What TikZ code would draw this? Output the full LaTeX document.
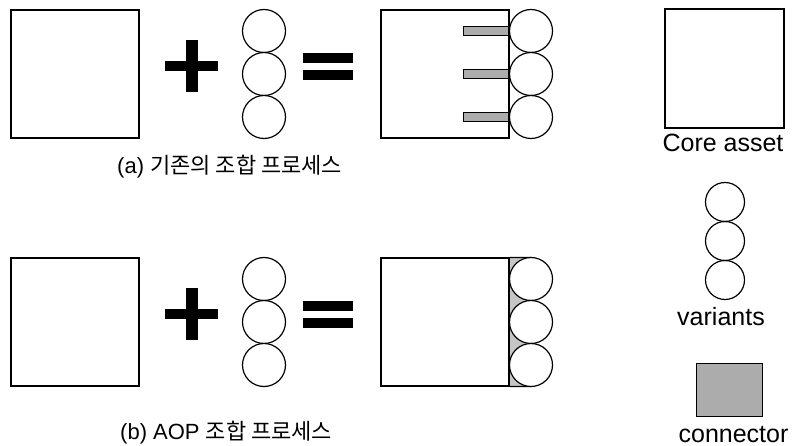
\documentclass[tikz,border=0pt]{standalone}
\usepackage{fontspec}
\setmainfont{Liberation Sans}
\newfontfamily\kofont{Noto Sans CJK KR}
\usetikzlibrary{positioning}

\begin{document}
\begin{tikzpicture}[x=1pt,y=-1pt,
  asset/.style={draw,line width=1.2pt,minimum width=128pt,minimum height=128pt,inner sep=0pt},
  variant/.style={draw,circle,fill=white,line width=1.2pt,minimum size=43pt,inner sep=0pt},
  glue/.style={draw,line width=1pt,fill=gray!65},
  caption/.style={font=\fontsize{22}{26}\selectfont,anchor=base west,inner sep=0pt},
  legend/.style={font=\fontsize{25}{30}\selectfont,anchor=base,inner sep=0pt}]
  \useasboundingbox (0,0) rectangle (795,446);

  % Both rows: core asset + variants = composed asset
  \foreach \row/\cy in {a/74,b/322} {
    \node[asset] (core\row) at (75,\cy) {};
    \node[asset] (res\row) at (445,\cy) {};

    % plus and equal signs
    \fill (165,\cy-13) rectangle (218,\cy-3);
    \fill (186,\cy-34) rectangle (198,\cy+18);
    \fill (303,\cy-21) rectangle (353,\cy-11);
    \fill (303,\cy-4) rectangle (353,\cy+6);

    % gray connector area of row b (under the circles)
    \ifnum\cy>200
      \fill[gray!45] (res\row.north east) rectangle (531,\cy+64.5);
      \draw[line width=1.2pt] (res\row.north east) -- (531,\cy-64.5);
      \draw[line width=1.2pt] (res\row.south east) -- (531,\cy+64.5);
    \fi

    \foreach \k/\dy in {1/-43,2/0,3/43} {
      \node[variant] (v\row\k) at (264,\cy+\dy) {};
      \node[variant] (w\row\k) at (531,\cy+\dy) {};
    }
  }

  % Row a: separate connector stubs into the core asset
  \foreach \k in {1,2,3}
    \draw[glue] ([xshift=-45pt,yshift=-4.5pt]wa\k.west) rectangle ([yshift=4.5pt]wa\k.west);

  % Captions
  \node[caption] (capa) at (117,174) {(a) {\kofont 기존의 조합 프로세스}};
  \node[caption] (capb) at (120,439) {(b) AOP {\kofont 조합 프로세스}};

  % Legend
  \node[draw,line width=1.2pt,minimum size=119pt,inner sep=0pt] (lcore) at (724.5,68.5) {};
  \node[legend] (lcoret) at (723,152) {Core asset};
  \foreach \k/\y in {1/202,2/241,3/280}
    \node[draw,circle,line width=1.2pt,minimum size=39pt,inner sep=0pt] (lvar\k) at (725,\y) {};
  \node[legend] (lvart) at (721,325) {variants};
  \node[glue,minimum width=66pt,minimum height=53pt,inner sep=0pt] (lconn) at (729,389.5) {};
  \node[legend] (lconnt) at (733.5,442) {connector};
\end{tikzpicture}
\end{document}
